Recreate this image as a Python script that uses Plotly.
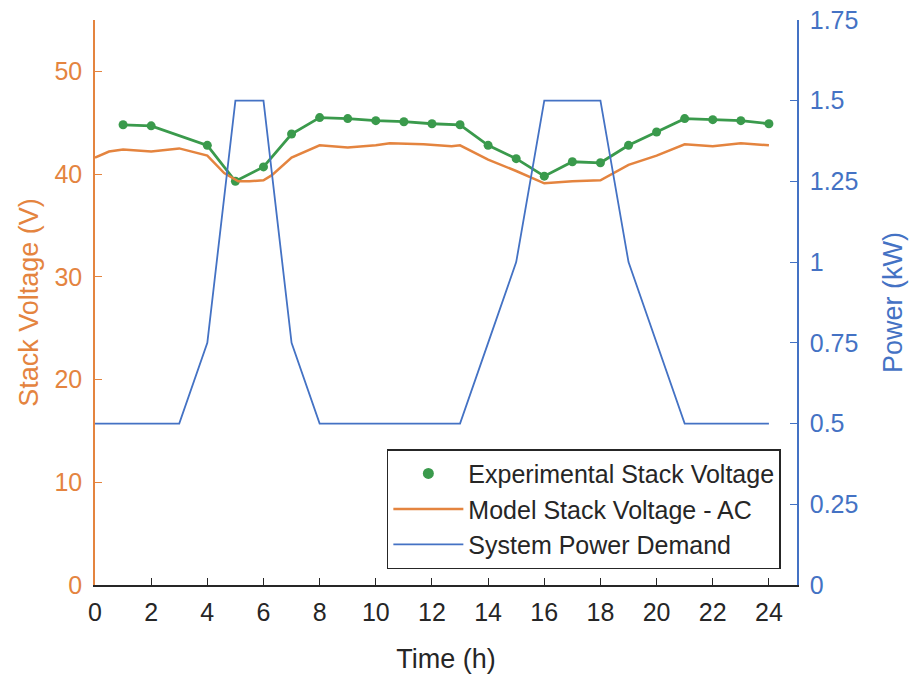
import plotly.graph_objects as go

# Experimental stack voltage (V)
exp_t = [1, 2, 4, 5, 6, 7, 8, 9, 10, 11, 12, 13, 14, 15, 16, 17, 18, 19, 20, 21, 22, 23, 24]
exp_v = [44.8, 44.7, 42.8, 39.3, 40.7, 43.9, 45.5, 45.4, 45.2, 45.1, 44.9, 44.8,
         42.8, 41.5, 39.8, 41.2, 41.1, 42.8, 44.1, 45.4, 45.3, 45.2, 44.9]

# Model stack voltage - AC (V)
mod_t = [0, 0.5, 1, 2, 3, 4, 4.6, 5.1, 5.5, 6, 6.3, 7, 8, 9, 10, 10.5, 11.7, 12.7,
         13, 14, 15, 16, 17, 18, 19, 20, 21, 22, 23, 24]
mod_v = [41.6, 42.2, 42.4, 42.2, 42.5, 41.8, 40.1, 39.3, 39.3, 39.4, 39.9, 41.6, 42.8,
         42.6, 42.8, 43.0, 42.9, 42.7, 42.8, 41.4, 40.3, 39.1, 39.3, 39.4, 40.9, 41.8,
         42.9, 42.7, 43.0, 42.8]

# System power demand (kW)
pow_t = [0, 3, 4, 5, 6, 7, 8, 13, 14, 15, 16, 18, 19, 20, 21, 24]
pow_p = [0.5, 0.5, 0.75, 1.5, 1.5, 0.75, 0.5, 0.5, 0.75, 1.0, 1.5, 1.5, 1.0, 0.75, 0.5, 0.5]

x_ticks = list(range(0, 25, 2))
yl_ticks = [0, 10, 20, 30, 40, 50]
yr_ticks = [0, 0.25, 0.5, 0.75, 1, 1.25, 1.5, 1.75]
yr_text = ["0", "0.25", "0.5", "0.75", "1", "1.25", "1.5", "1.75"]

ORANGE = "#E4843F"
BLUE = "#4472C4"
GREEN = "#3A9A4C"
DARK = "#262626"
FONT = "Liberation Sans, Arial, sans-serif"
TICK = 25
TITLE = 27

fig = go.Figure()
# data line for experimental (legend shows marker only via proxy trace)
fig.add_trace(go.Scatter(x=exp_t, y=exp_v, mode="lines+markers", name="Experimental Stack Voltage",
                         line=dict(color=GREEN, width=2.8), marker=dict(color=GREEN, size=9),
                         yaxis="y", showlegend=False))
fig.add_trace(go.Scatter(x=[None], y=[None], mode="markers", name="Experimental Stack Voltage",
                         marker=dict(color=GREEN, size=11), yaxis="y", legendrank=1))
fig.add_trace(go.Scatter(x=mod_t, y=mod_v, mode="lines", name="Model Stack Voltage - AC",
                         line=dict(color=ORANGE, width=2.5), yaxis="y", legendrank=2))
fig.add_trace(go.Scatter(x=pow_t, y=pow_p, mode="lines", name="System Power Demand",
                         line=dict(color=BLUE, width=1.8), yaxis="y2", legendrank=3))

fig.update_layout(
    width=914, height=675,
    margin=dict(l=95, r=117, t=20, b=90),
    paper_bgcolor="white", plot_bgcolor="white",
    font=dict(family=FONT, size=TICK, color=DARK),
    showlegend=True,
    legend=dict(x=0.977, y=0.028, xanchor="right", yanchor="bottom",
                bgcolor="white", bordercolor=DARK, borderwidth=1.5,
                font=dict(size=25, color=DARK), itemwidth=70, tracegroupgap=0),
    xaxis=dict(range=[0, 25], tickvals=x_ticks, ticks="inside", ticklen=7, tickcolor=DARK,
               showline=True, linecolor=DARK, linewidth=1.5, showgrid=False, zeroline=False,
               tickfont=dict(size=TICK, color=DARK), ticklabelstandoff=4, automargin=False,
               title=dict(text="Time (h)", font=dict(size=TITLE, color=DARK), standoff=24)),
    yaxis=dict(range=[0, 55], tickvals=yl_ticks, ticks="inside", ticklen=7, tickcolor=ORANGE,
               showline=True, linecolor=ORANGE, linewidth=1.5, showgrid=False, zeroline=False,
               tickfont=dict(size=TICK, color=ORANGE), ticklabelstandoff=6, automargin=False,
               title=dict(text="Stack Voltage (V)", font=dict(size=TITLE, color=ORANGE), standoff=8)),
    yaxis2=dict(range=[0, 1.75], tickvals=yr_ticks, ticktext=yr_text, overlaying="y", side="right",
                ticks="inside", ticklen=7, tickcolor=BLUE,
                showline=True, linecolor=BLUE, linewidth=1.5, showgrid=False, zeroline=False,
                tickfont=dict(size=TICK, color=BLUE), ticklabelstandoff=6, automargin=False,
                title=dict(text="Power (kW)", font=dict(size=TITLE, color=BLUE), standoff=26)),
)

fig.write_html("out.html")
